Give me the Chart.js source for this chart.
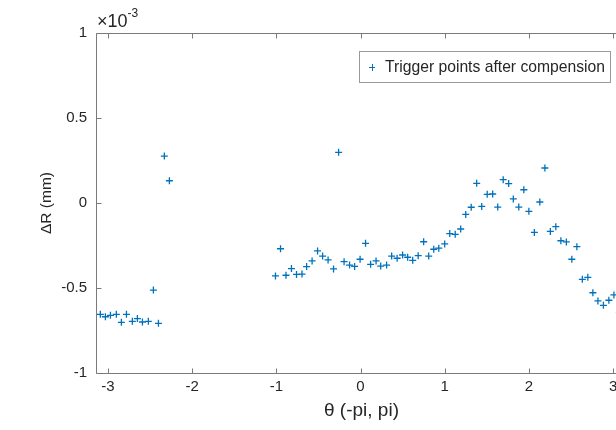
<!DOCTYPE html>
<html>
<head>
<meta charset="utf-8">
<script src="https://cdn.jsdelivr.net/npm/chart.js@4.4.0/dist/chart.umd.min.js"></script>
<style>
  html, body { margin: 0; padding: 0; background: #fff; overflow: hidden; }
  #wrap { width: 616px; height: 430px; overflow: hidden; }
  canvas { display: block; }
</style>
</head>
<body>
<div id="wrap"><canvas id="chart" width="640" height="430"></canvas></div>
<script>
// theta (rad) and deltaR (x 1e-3 mm)
const theta = [
    -3.09, -3.03, -2.97, -2.90, -2.84, -2.78, -2.71, -2.65, -2.59, -2.52, -2.46, -2.40, -2.33, -2.27,
    -1.01, -0.95, -0.885, -0.82, -0.76, -0.695, -0.64, -0.575, -0.51, -0.45,
    -0.385, -0.32, -0.26, -0.195, -0.13, -0.07, -0.005, 0.06, 0.12, 0.185,
    0.24, 0.31, 0.37, 0.435, 0.5, 0.56, 0.62, 0.685, 0.75, 0.81, 0.87, 0.93,
    1.00, 1.06, 1.125, 1.19, 1.25, 1.315, 1.38, 1.44, 1.505, 1.57,
    1.63, 1.695, 1.76, 1.815, 1.88, 1.94, 2.00, 2.065, 2.13, 2.19,
    2.255, 2.32, 2.38, 2.445, 2.51, 2.57, 2.635, 2.70, 2.76, 2.82,
    2.885, 2.95, 3.01, 3.075
];
const deltaR = [
    -0.655, -0.669, -0.661, -0.655, -0.702, -0.655, -0.696, -0.68, -0.70, -0.696, -0.512, -0.708, 0.276, 0.131,
    -0.429, -0.269, -0.425, -0.386, -0.42, -0.418, -0.374, -0.341, -0.282, -0.312,
    -0.335, -0.388, 0.298, -0.345, -0.365, -0.373, -0.331, -0.237, -0.361, -0.341,
    -0.371, -0.365, -0.312, -0.325, -0.306, -0.319, -0.337, -0.31, -0.228, -0.312, -0.272, -0.266,
    -0.241, -0.18, -0.184, -0.153, -0.067, -0.025, 0.116, -0.02, 0.051, 0.053,
    -0.024, 0.137, 0.114, 0.024, -0.024, 0.078, -0.049, -0.173, 0.006, 0.206,
    -0.167, -0.139, -0.222, -0.229, -0.331, -0.257, -0.449, -0.437, -0.528, -0.576,
    -0.602, -0.572, -0.541, -0.645
];
const xTicks = [-3, -2, -1, 0, 1, 2, 3];
const yTicks = [-1, -0.5, 0, 0.5, 1];
const seriesLabel = 'Trigger points after compension';
const xTitle = 'θ (-pi, pi)';
const yTitle = 'ΔR (mm)';

const FONT = '"Liberation Sans", Arial, Helvetica, sans-serif';
const AXIS = '#262626';
const LINE = '#7a7a7a';
const BLUE = '#0072BD';

// box, inward ticks, titles, exponent, legend
const matlabAxes = {
    id: 'matlabAxes',
    afterDraw(chart) {
        const { ctx, chartArea: a, scales } = chart;
        const L = Math.round(a.left) + 0.5, R = Math.round(a.right) + 0.5;
        const T = Math.round(a.top) + 0.5, B = Math.round(a.bottom) + 0.5;
        ctx.save();
        ctx.strokeStyle = LINE;
        ctx.lineWidth = 1;
        ctx.beginPath();
        ctx.moveTo(L, T); ctx.lineTo(R, T);
        ctx.moveTo(L, T); ctx.lineTo(L, B); ctx.lineTo(R, B);
        xTicks.forEach(v => {
            const x = Math.round(scales.x.getPixelForValue(v)) + 0.5;
            ctx.moveTo(x, B); ctx.lineTo(x, B - 5);
            ctx.moveTo(x, T); ctx.lineTo(x, T + 5);
        });
        yTicks.forEach(v => {
            const y = Math.round(scales.y.getPixelForValue(v)) + 0.5;
            ctx.moveTo(L, y); ctx.lineTo(L + 5, y);
        });
        ctx.stroke();

        ctx.fillStyle = AXIS;
        ctx.textAlign = 'center';
        ctx.textBaseline = 'middle';
        ctx.font = '19px ' + FONT;
        ctx.fillText(xTitle, scales.x.getPixelForValue(0) + 1, 411);
        ctx.save();
        ctx.font = '15.5px ' + FONT;
        ctx.translate(47, scales.y.getPixelForValue(0));
        ctx.rotate(-Math.PI / 2);
        ctx.fillText(yTitle, 0, 0);
        ctx.restore();

        // exponent label
        ctx.textAlign = 'left';
        ctx.textBaseline = 'alphabetic';
        ctx.font = '18px ' + FONT;
        ctx.fillText('\u00d710', 97, 27);
        const w = ctx.measureText('\u00d710').width;
        ctx.font = '12px ' + FONT;
        ctx.fillText('-3', 97 + w, 17);

        // legend
        const lx = 359.5, ly = 51.5, lw = 251, lh = 31;
        ctx.fillStyle = '#fff';
        ctx.fillRect(lx, ly, lw, lh);
        ctx.strokeStyle = '#9a9a9a';
        ctx.strokeRect(lx, ly, lw, lh);
        ctx.strokeStyle = BLUE;
        ctx.beginPath();
        ctx.moveTo(369, 67.5); ctx.lineTo(375, 67.5);
        ctx.moveTo(372.5, 64); ctx.lineTo(372.5, 71);
        ctx.stroke();
        ctx.fillStyle = AXIS;
        ctx.font = '15.7px ' + FONT;
        ctx.textBaseline = 'middle';
        ctx.fillText(seriesLabel, 385, 67.5);
        ctx.restore();
    }
};

new Chart(document.getElementById('chart'), {
    type: 'scatter',
    data: {
        datasets: [{
            label: seriesLabel,
            data: theta.map((t, i) => ({ x: t, y: deltaR[i] })),
            pointStyle: 'cross',
            radius: 3.5,
            borderWidth: 1.3,
            borderColor: BLUE,
            backgroundColor: BLUE
        }]
    },
    options: {
        responsive: false,
        animation: false,
        devicePixelRatio: 1,
        layout: { padding: { left: 0, top: 33, right: 15, bottom: 0 } },
        plugins: { legend: { display: false }, tooltip: { enabled: false } },
        scales: {
            x: {
                type: 'linear',
                min: -Math.PI,
                max: Math.PI,
                grid: { display: false },
                border: { display: false },
                afterBuildTicks: s => { s.ticks = xTicks.map(v => ({ value: v })); },
                afterFit: s => { s.height = 57; },
                ticks: {
                    color: AXIS,
                    font: { family: FONT, size: 15 },
                    padding: -3,
                    maxRotation: 0,
                    autoSkip: false
                }
            },
            y: {
                type: 'linear',
                min: -1,
                max: 1,
                grid: { display: false },
                border: { display: false },
                afterBuildTicks: s => { s.ticks = yTicks.map(v => ({ value: v })); },
                afterFit: s => { s.width = 96; },
                ticks: {
                    color: AXIS,
                    font: { family: FONT, size: 15 },
                    padding: 1,
                    autoSkip: false,
                    callback: v => String(v)
                }
            }
        }
    },
    plugins: [matlabAxes]
});
</script>
</body>
</html>
